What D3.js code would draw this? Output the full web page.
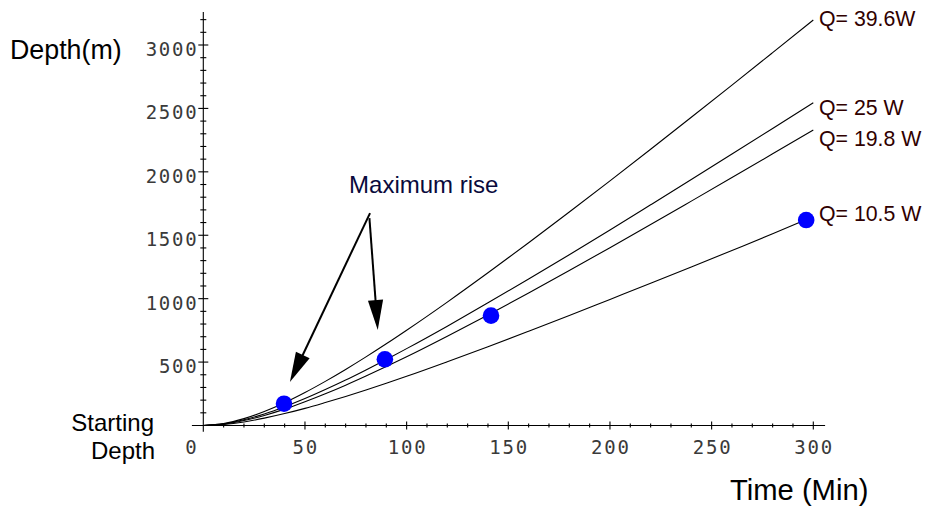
<!DOCTYPE html>
<html>
<head>
<meta charset="utf-8">
<script src="https://cdn.jsdelivr.net/npm/d3@7/dist/d3.min.js"></script>
<style>
  html, body { margin: 0; padding: 0; background: #fff; }
  svg { display: block; }
</style>
</head>
<body>
<svg id="chart" width="925" height="508"></svg>
<script>
// ---- data ----
const times = [0,10,20,30,40,50,60,70,80,90,100,120,140,160,180,200,220,240,260,280,300];
const timesLow = [0,10,20,30,40,50,60,70,80,90,100,120,140,160,180,200,220,240,260,280,296];
const depthQ396 = [0,15,54,111,180,260,348,442,541,644,751,973,1204,1441,1683,1929,2178,2430,2684,2940,3197];
const depthQ25  = [0,12.5,45,91,148,212,283,358,438,521,606,783,967,1155,1347,1542,1740,1939,2140,2342,2545];
const depthQ198 = [0,10.7,39,79,129,187,250,318,390,465,542,704,872,1045,1222,1402,1584,1769,1955,2142,2330];
const depthQ105 = [0,7.9,28,58,94,135,181,229,280,333,388,503,621,743,867,994,1121,1250,1380,1511,1620];
const seriesNames = ["Q= 39.6W", "Q= 25 W", "Q= 19.8 W", "Q= 10.5 W"];
const labelDepths = [3205, 2503, 2262, 1672];
const dotTimes  = [39.7, 89.3, 141.5, 296.5];
const dotDepths = [172, 522, 866, 1620];
const xTicks = [0,50,100,150,200,250,300];
const yTicks = [500,1000,1500,2000,2500,3000];
const annotationText = "Maximum rise";
// arrows: [startTime, startDepth, tipTime, tipDepth]
const arrowStarts = [[82.0, 1675], [81.7, 1635]];
const arrowTips   = [[42.6, 343], [85.8, 753]];

// ---- layout ----
const svg = d3.select("#chart");
const x = d3.scaleLinear().domain([0, 300]).range([203.3, 813.3]);
const y = d3.scaleLinear().domain([0, 3000]).range([425.5, 45]);

const sans = "'Liberation Sans', Arial, Helvetica, sans-serif";
const mono = "'DejaVu Sans Mono', monospace";

// axes lines
const axisG = svg.append("g").attr("stroke", "#000").attr("stroke-width", 1.1);
axisG.append("line")
  .attr("x1", x(-5.6)).attr("x2", x(305.8))
  .attr("y1", y(0)).attr("y2", y(0));
axisG.append("line")
  .attr("x1", x(0)).attr("x2", x(0))
  .attr("y1", y(-50)).attr("y2", y(3260));

// x ticks
const xMinor = d3.range(10, 301, 10).filter(v => v % 50 !== 0);
axisG.selectAll(".xmaj").data(xTicks.filter(v => v > 0)).join("line")
  .attr("x1", d => x(d)).attr("x2", d => x(d))
  .attr("y1", y(0) - 4).attr("y2", y(0) + 4);
axisG.selectAll(".xmin").data(xMinor).join("line")
  .attr("class", "xmin")
  .attr("x1", d => x(d)).attr("x2", d => x(d))
  .attr("y1", y(0) - 2).attr("y2", y(0) + 2);

// y ticks
const yMinor = d3.range(100, 3201, 100).filter(v => v % 500 !== 0);
axisG.selectAll(".ymaj").data(yTicks).join("line")
  .attr("class", "ymaj")
  .attr("x1", x(0) - 5).attr("x2", x(0) + 5)
  .attr("y1", d => y(d)).attr("y2", d => y(d));
axisG.selectAll(".ymin").data(yMinor).join("line")
  .attr("class", "ymin")
  .attr("x1", x(0) - 3).attr("x2", x(0) + 3)
  .attr("y1", d => y(d)).attr("y2", d => y(d));

// tick labels
svg.append("g").selectAll("text").data(xTicks).join("text")
  .attr("x", d => d === 0 ? x(0) - 11.5 : x(d) + 0.9)
  .attr("y", y(0) + 28)
  .attr("text-anchor", "middle")
  .attr("font-family", mono).attr("font-size", 19)
  .attr("letter-spacing", 1.8)
  .attr("fill", "#3a3a3a")
  .text(d => d);
svg.append("g").selectAll("text").data(yTicks).join("text")
  .attr("x", x(0) - 6.5 + 1.8)
  .attr("y", d => y(d) + 11)
  .attr("text-anchor", "end")
  .attr("font-family", mono).attr("font-size", 19)
  .attr("letter-spacing", 1.8)
  .attr("fill", "#3a3a3a")
  .text(d => d);

// curves
const allSeries = [
  times.map((t, i) => [t, depthQ396[i]]),
  times.map((t, i) => [t, depthQ25[i]]),
  times.map((t, i) => [t, depthQ198[i]]),
  timesLow.map((t, i) => [t, depthQ105[i]])
];
const line = d3.line().x(d => x(d[0])).y(d => y(d[1])).curve(d3.curveMonotoneX);
svg.append("g").selectAll("path").data(allSeries).join("path")
  .attr("d", line)
  .attr("fill", "none")
  .attr("stroke", "#000")
  .attr("stroke-width", 1.1);

// dots
svg.append("g").selectAll("circle").data(dotTimes.map((t, i) => [t, dotDepths[i]])).join("circle")
  .attr("cx", d => x(d[0])).attr("cy", d => y(d[1]))
  .attr("r", 8.3)
  .attr("fill", "#0000ff");

// series labels
svg.append("g").selectAll("text").data(seriesNames).join("text")
  .attr("x", x(302.8))
  .attr("y", (d, i) => y(labelDepths[i]) + 7.3)
  .attr("font-family", sans).attr("font-size", 21.3)
  .attr("fill", "#300000")
  .text(d => d);

// arrows
const arrowG = svg.append("g");
arrowStarts.forEach((s, i) => {
  const x1 = x(s[0]), y1 = y(s[1]);
  const x2 = x(arrowTips[i][0]), y2 = y(arrowTips[i][1]);
  const dx = x2 - x1, dy = y2 - y1, len = Math.hypot(dx, dy);
  const ux = dx / len, uy = dy / len;
  const headLen = 30, halfW = 7.6;
  const bx = x2 - ux * headLen, by = y2 - uy * headLen;
  arrowG.append("line")
    .attr("x1", x1).attr("y1", y1).attr("x2", bx + ux * 2).attr("y2", by + uy * 2)
    .attr("stroke", "#000").attr("stroke-width", 2);
  arrowG.append("path")
    .attr("d", `M${x2},${y2}L${bx - uy * halfW},${by + ux * halfW}L${bx + uy * halfW},${by - ux * halfW}Z`)
    .attr("fill", "#000");
});

// annotation
svg.append("text")
  .attr("x", x(71.7)).attr("y", y(1836))
  .attr("font-family", sans).attr("font-size", 24)
  .attr("fill", "#0a0a3c")
  .text(annotationText);

// axis titles
svg.append("text")
  .attr("x", 10).attr("y", 59)
  .attr("font-family", sans).attr("font-size", 26.8)
  .attr("fill", "#000")
  .text("Depth(m)");
svg.append("text")
  .attr("x", 154).attr("y", 431)
  .attr("text-anchor", "end")
  .attr("font-family", sans).attr("font-size", 24)
  .attr("fill", "#000")
  .text("Starting");
svg.append("text")
  .attr("x", 155).attr("y", 459)
  .attr("text-anchor", "end")
  .attr("font-family", sans).attr("font-size", 24)
  .attr("fill", "#000")
  .text("Depth");
svg.append("text")
  .attr("x", 730).attr("y", 500)
  .attr("font-family", sans).attr("font-size", 29.2)
  .attr("fill", "#000")
  .text("Time (Min)");
</script>
</body>
</html>
